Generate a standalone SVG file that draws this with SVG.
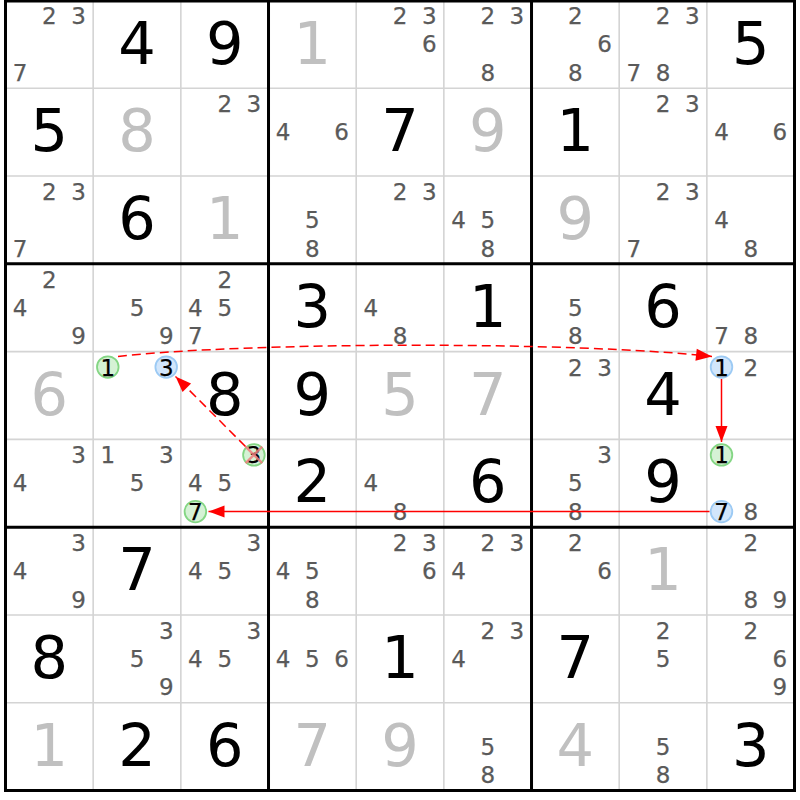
<svg xmlns="http://www.w3.org/2000/svg" width="800" height="800" viewBox="0 0 800 800">
<style>
text{font-family:"DejaVu Sans","Liberation Sans",sans-serif;text-anchor:middle}
.g{font-size:59px;fill:#000}
.s{font-size:59px;fill:#c0c0c0}
.c{font-size:23px;fill:#5a5a5a;stroke:#5a5a5a;stroke-width:0.25}
.k{fill:#000;stroke:#000}
.cg{fill:#d5f2d5;stroke:#84d684;stroke-width:1.8}
.cb{fill:#d2e6fb;stroke:#9ccaf4;stroke-width:1.8}
.thin{stroke:#d4d4d4;stroke-width:1.6;fill:none}
.thick{stroke:#000;stroke-width:3;fill:none}
.arr{stroke:#ff0000;stroke-width:1.5;fill:none;marker-end:url(#ah)}
.dash{stroke-dasharray:9 5}
.x{stroke:#f07e7e;stroke-width:2.4;opacity:0.85}
</style>
<defs>
<marker id="ah" markerUnits="userSpaceOnUse" markerWidth="16" markerHeight="12" refX="16" refY="6" orient="auto" overflow="visible">
<path d="M0,0 L16,6 L0,12 Z" fill="#ff0000"/>
</marker>
</defs>
<rect x="0" y="0" width="800" height="800" fill="#fff"/>
<g id="grid">
<path class="thin" d="M93.17,1V790.5M180.84,1V790.5M356.18,1V790.5M443.85,1V790.5M619.19,1V790.5M706.86,1V790.5M5.5,88.28H794.5M5.5,176.06H794.5M5.5,351.61H794.5M5.5,439.39H794.5M5.5,614.94H794.5M5.5,702.72H794.5"/>
<path class="thick" d="M268.51,1V790.5M531.52,1V790.5M5.5,263.83H794.5M5.5,527.17H794.5"/>
<rect class="thick" x="5.5" y="1" width="789" height="789.5"/>
</g>
<g id="r1c1"><text class="c" x="49.3" y="24.4">2</text><text class="c" x="78.6" y="24.4">3</text><text class="c" x="20.1" y="80.9">7</text></g>
<g id="r1c2"><text class="g" x="137" y="63.5">4</text></g>
<g id="r1c3"><text class="g" x="224.7" y="63.5">9</text></g>
<g id="r1c4"><text class="s" x="312.3" y="63.5">1</text></g>
<g id="r1c5"><text class="c" x="400" y="24.4">2</text><text class="c" x="429.2" y="24.4">3</text><text class="c" x="429.2" y="52.4">6</text></g>
<g id="r1c6"><text class="c" x="487.7" y="24.4">2</text><text class="c" x="516.9" y="24.4">3</text><text class="c" x="487.7" y="80.9">8</text></g>
<g id="r1c7"><text class="c" x="575.3" y="24.4">2</text><text class="c" x="604.6" y="52.4">6</text><text class="c" x="575.3" y="80.9">8</text></g>
<g id="r1c8"><text class="c" x="663" y="24.4">2</text><text class="c" x="692.3" y="24.4">3</text><text class="c" x="633.8" y="80.9">7</text><text class="c" x="663" y="80.9">8</text></g>
<g id="r1c9"><text class="g" x="750.7" y="63.5">5</text></g>

<g id="r2c1"><text class="g" x="49.3" y="151.3">5</text></g>
<g id="r2c2"><text class="s" x="137" y="151.3">8</text></g>
<g id="r2c3"><text class="c" x="224.7" y="112.2">2</text><text class="c" x="253.9" y="112.2">3</text></g>
<g id="r2c4"><text class="c" x="283.1" y="140.2">4</text><text class="c" x="341.6" y="140.2">6</text></g>
<g id="r2c5"><text class="g" x="400" y="151.3">7</text></g>
<g id="r2c6"><text class="s" x="487.7" y="151.3">9</text></g>
<g id="r2c7"><text class="g" x="575.3" y="151.3">1</text></g>
<g id="r2c8"><text class="c" x="663" y="112.2">2</text><text class="c" x="692.3" y="112.2">3</text></g>
<g id="r2c9"><text class="c" x="721.5" y="140.2">4</text><text class="c" x="779.9" y="140.2">6</text></g>

<g id="r3c1"><text class="c" x="49.3" y="200">2</text><text class="c" x="78.6" y="200">3</text><text class="c" x="20.1" y="256.5">7</text></g>
<g id="r3c2"><text class="g" x="137" y="239.1">6</text></g>
<g id="r3c3"><text class="s" x="224.7" y="239.1">1</text></g>
<g id="r3c4"><text class="c" x="312.3" y="228">5</text><text class="c" x="312.3" y="256.5">8</text></g>
<g id="r3c5"><text class="c" x="400" y="200">2</text><text class="c" x="429.2" y="200">3</text></g>
<g id="r3c6"><text class="c" x="458.5" y="228">4</text><text class="c" x="487.7" y="228">5</text><text class="c" x="487.7" y="256.5">8</text></g>
<g id="r3c7"><text class="s" x="575.3" y="239.1">9</text></g>
<g id="r3c8"><text class="c" x="663" y="200">2</text><text class="c" x="692.3" y="200">3</text><text class="c" x="633.8" y="256.5">7</text></g>
<g id="r3c9"><text class="c" x="721.5" y="228">4</text><text class="c" x="750.7" y="256.5">8</text></g>

<g id="r4c1"><text class="c" x="49.3" y="287.7">2</text><text class="c" x="20.1" y="315.7">4</text><text class="c" x="78.6" y="344.2">9</text></g>
<g id="r4c2"><text class="c" x="137" y="315.7">5</text><text class="c" x="166.2" y="344.2">9</text></g>
<g id="r4c3"><text class="c" x="224.7" y="287.7">2</text><text class="c" x="195.4" y="315.7">4</text><text class="c" x="224.7" y="315.7">5</text><text class="c" x="195.4" y="344.2">7</text></g>
<g id="r4c4"><text class="g" x="312.3" y="326.8">3</text></g>
<g id="r4c5"><text class="c" x="370.8" y="315.7">4</text><text class="c" x="400" y="344.2">8</text></g>
<g id="r4c6"><text class="g" x="487.7" y="326.8">1</text></g>
<g id="r4c7"><text class="c" x="575.3" y="315.7">5</text><text class="c" x="575.3" y="344.2">8</text></g>
<g id="r4c8"><text class="g" x="663" y="326.8">6</text></g>
<g id="r4c9"><text class="c" x="721.5" y="344.2">7</text><text class="c" x="750.7" y="344.2">8</text></g>

<g id="r5c1"><text class="s" x="49.3" y="414.6">6</text></g>
<g id="r5c2"><circle class="cg" cx="107.8" cy="367.1" r="10.8"/><text class="c k" x="107.8" y="375.5">1</text><circle class="cb" cx="166.2" cy="367.1" r="10.8"/><text class="c k" x="166.2" y="375.5">3</text></g>
<g id="r5c3"><text class="g" x="224.7" y="414.6">8</text></g>
<g id="r5c4"><text class="g" x="312.3" y="414.6">9</text></g>
<g id="r5c5"><text class="s" x="400" y="414.6">5</text></g>
<g id="r5c6"><text class="s" x="487.7" y="414.6">7</text></g>
<g id="r5c7"><text class="c" x="575.3" y="375.5">2</text><text class="c" x="604.6" y="375.5">3</text></g>
<g id="r5c8"><text class="g" x="663" y="414.6">4</text></g>
<g id="r5c9"><circle class="cb" cx="721.5" cy="367.1" r="10.8"/><text class="c k" x="721.5" y="375.5">1</text><text class="c" x="750.7" y="375.5">2</text></g>

<g id="r6c1"><text class="c" x="78.6" y="463.3">3</text><text class="c" x="20.1" y="491.3">4</text></g>
<g id="r6c2"><text class="c" x="107.8" y="463.3">1</text><text class="c" x="166.2" y="463.3">3</text><text class="c" x="137" y="491.3">5</text></g>
<g id="r6c3"><circle class="cg" cx="253.9" cy="454.9" r="10.8"/><text class="c k" x="253.9" y="463.3">3</text><path class="x" d="M245.6,446.6L262.2,463.2M262.2,446.6L245.6,463.2"/><text class="c" x="195.4" y="491.3">4</text><text class="c" x="224.7" y="491.3">5</text><circle class="cg" cx="195.4" cy="511.6" r="10.8"/><text class="c k" x="195.4" y="520">7</text></g>
<g id="r6c4"><text class="g" x="312.3" y="502.4">2</text></g>
<g id="r6c5"><text class="c" x="370.8" y="491.3">4</text><text class="c" x="400" y="519.8">8</text></g>
<g id="r6c6"><text class="g" x="487.7" y="502.4">6</text></g>
<g id="r6c7"><text class="c" x="604.6" y="463.3">3</text><text class="c" x="575.3" y="491.3">5</text><text class="c" x="575.3" y="519.8">8</text></g>
<g id="r6c8"><text class="g" x="663" y="502.4">9</text></g>
<g id="r6c9"><circle class="cg" cx="721.5" cy="454.9" r="10.8"/><text class="c k" x="721.5" y="463.3">1</text><circle class="cb" cx="721.5" cy="511.6" r="10.8"/><text class="c k" x="721.5" y="520">7</text><text class="c" x="750.7" y="520">8</text></g>

<g id="r7c1"><text class="c" x="78.6" y="551.1">3</text><text class="c" x="20.1" y="579.1">4</text><text class="c" x="78.6" y="607.6">9</text></g>
<g id="r7c2"><text class="g" x="137" y="590.2">7</text></g>
<g id="r7c3"><text class="c" x="253.9" y="551.1">3</text><text class="c" x="195.4" y="579.1">4</text><text class="c" x="224.7" y="579.1">5</text></g>
<g id="r7c4"><text class="c" x="283.1" y="579.1">4</text><text class="c" x="312.3" y="579.1">5</text><text class="c" x="312.3" y="607.6">8</text></g>
<g id="r7c5"><text class="c" x="400" y="551.1">2</text><text class="c" x="429.2" y="551.1">3</text><text class="c" x="429.2" y="579.1">6</text></g>
<g id="r7c6"><text class="c" x="487.7" y="551.1">2</text><text class="c" x="516.9" y="551.1">3</text><text class="c" x="458.5" y="579.1">4</text></g>
<g id="r7c7"><text class="c" x="575.3" y="551.1">2</text><text class="c" x="604.6" y="579.1">6</text></g>
<g id="r7c8"><text class="s" x="663" y="590.2">1</text></g>
<g id="r7c9"><text class="c" x="750.7" y="551.1">2</text><text class="c" x="750.7" y="607.6">8</text><text class="c" x="779.9" y="607.6">9</text></g>

<g id="r8c1"><text class="g" x="49.3" y="677.9">8</text></g>
<g id="r8c2"><text class="c" x="166.2" y="638.8">3</text><text class="c" x="137" y="666.8">5</text><text class="c" x="166.2" y="695.3">9</text></g>
<g id="r8c3"><text class="c" x="253.9" y="638.8">3</text><text class="c" x="195.4" y="666.8">4</text><text class="c" x="224.7" y="666.8">5</text></g>
<g id="r8c4"><text class="c" x="283.1" y="666.8">4</text><text class="c" x="312.3" y="666.8">5</text><text class="c" x="341.6" y="666.8">6</text></g>
<g id="r8c5"><text class="g" x="400" y="677.9">1</text></g>
<g id="r8c6"><text class="c" x="487.7" y="638.8">2</text><text class="c" x="516.9" y="638.8">3</text><text class="c" x="458.5" y="666.8">4</text></g>
<g id="r8c7"><text class="g" x="575.3" y="677.9">7</text></g>
<g id="r8c8"><text class="c" x="663" y="638.8">2</text><text class="c" x="663" y="666.8">5</text></g>
<g id="r8c9"><text class="c" x="750.7" y="638.8">2</text><text class="c" x="779.9" y="666.8">6</text><text class="c" x="779.9" y="695.3">9</text></g>

<g id="r9c1"><text class="s" x="49.3" y="765.7">1</text></g>
<g id="r9c2"><text class="g" x="137" y="765.7">2</text></g>
<g id="r9c3"><text class="g" x="224.7" y="765.7">6</text></g>
<g id="r9c4"><text class="s" x="312.3" y="765.7">7</text></g>
<g id="r9c5"><text class="s" x="400" y="765.7">9</text></g>
<g id="r9c6"><text class="c" x="487.7" y="754.6">5</text><text class="c" x="487.7" y="783.1">8</text></g>
<g id="r9c7"><text class="s" x="575.3" y="765.7">4</text></g>
<g id="r9c8"><text class="c" x="663" y="754.6">5</text><text class="c" x="663" y="783.1">8</text></g>
<g id="r9c9"><text class="g" x="750.7" y="765.7">3</text></g>

<g id="connectors">
<path class="arr dash" d="M118,356.5 C250,341.5 580,341.5 712,356.5"/>
<path class="arr" d="M721.5,379 L721.5,442"/>
<path class="arr" d="M709.5,511.6 L208.5,511.6"/>
<path class="arr dash" d="M245.5,446.5 L175.5,376.5"/>
</g>
</svg>
